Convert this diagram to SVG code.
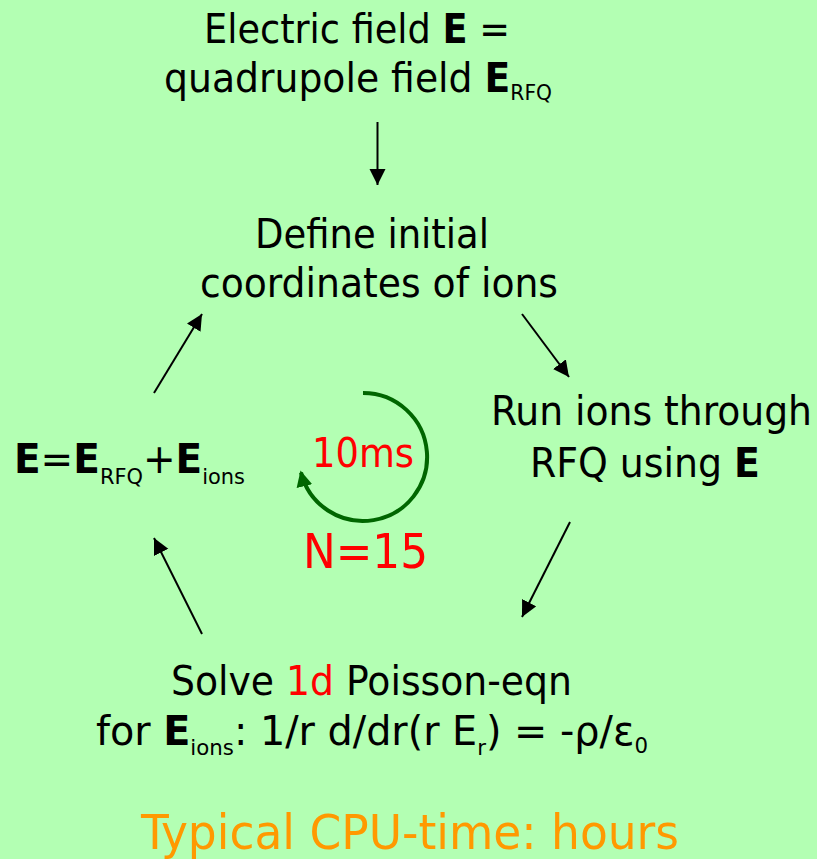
<svg xmlns="http://www.w3.org/2000/svg" width="817" height="859" viewBox="0 0 817 859">
<defs>
<style>
.t{font-family:"DejaVu Sans Condensed","DejaVu Sans",sans-serif;font-size:41px;fill:#000}
.b{font-weight:bold}
.s{font-size:22px}
.red{fill:#ff0000}
.big{font-size:48px}
.or{fill:#ff9900}
.ar{stroke:#000;stroke-width:2;fill:none;marker-end:url(#ah)}
</style>
<marker id="ah" markerUnits="userSpaceOnUse" markerWidth="17" markerHeight="17" refX="16" refY="8" orient="auto">
<path d="M0,0 L16,8 L0,16 z" fill="#000"/>
</marker>
<marker id="gh" markerUnits="userSpaceOnUse" markerWidth="17" markerHeight="16" refX="14" refY="8" orient="auto">
<path d="M0,0 L16,8 L0,16 z" fill="#006600"/>
</marker>
</defs>
<rect width="817" height="859" fill="#b3ffb3"/>
<g id="connectors">
<line class="ar" x1="377.5" y1="122" x2="377.5" y2="185"/>
<line class="ar" x1="154" y1="393" x2="202" y2="314"/>
<line class="ar" x1="522" y1="314" x2="569" y2="377"/>
<line class="ar" x1="570" y1="522" x2="522" y2="617"/>
<line class="ar" x1="202" y1="634" x2="154" y2="538"/>
</g>
<g id="node-field">
<text class="t" x="204" y="43" textLength="306" lengthAdjust="spacingAndGlyphs">Electric field <tspan class="b">E</tspan> =</text>
<text class="t" x="164" y="92" textLength="388" lengthAdjust="spacingAndGlyphs">quadrupole field <tspan class="b">E</tspan><tspan class="s" dy="8">RFQ</tspan></text>
</g>
<g id="node-define">
<text class="t" x="255" y="248" textLength="234" lengthAdjust="spacingAndGlyphs">Define initial</text>
<text class="t" x="200" y="297" textLength="358" lengthAdjust="spacingAndGlyphs">coordinates of ions</text>
</g>
<g id="node-run">
<text class="t" x="491" y="425" textLength="321" lengthAdjust="spacingAndGlyphs">Run ions through</text>
<text class="t" x="530" y="477" textLength="230" lengthAdjust="spacingAndGlyphs">RFQ using <tspan class="b">E</tspan></text>
</g>
<g id="node-solve">
<text class="t" x="171" y="695" textLength="401" lengthAdjust="spacingAndGlyphs">Solve <tspan class="red">1d</tspan> Poisson-eqn</text>
<text class="t" x="96" y="745" textLength="552" lengthAdjust="spacingAndGlyphs">for <tspan class="b">E</tspan><tspan class="s" dy="10">ions</tspan><tspan dy="-10">: 1/r d/dr(r E</tspan><tspan class="s" dy="10">r</tspan><tspan dy="-10">) = -ρ/ε</tspan><tspan class="s" dy="8">0</tspan></text>
</g>
<g id="node-sum">
<text class="t" x="14" y="473" textLength="231" lengthAdjust="spacingAndGlyphs"><tspan class="b">E</tspan>=<tspan class="b">E</tspan><tspan class="s" dy="11">RFQ</tspan><tspan dy="-11">+</tspan><tspan class="b">E</tspan><tspan class="s" dy="11">ions</tspan></text>
</g>
<g id="loop">
<path d="M363,393 A64,64 0 1 1 301,472.5" fill="none" stroke="#006600" stroke-width="4" marker-end="url(#gh)"/>
<text class="t red" x="312" y="467" textLength="102" lengthAdjust="spacingAndGlyphs">10ms</text>
<text class="t red big" x="303" y="568" textLength="125" lengthAdjust="spacingAndGlyphs">N=15</text>
</g>
<g id="cpu-time">
<text class="t or big" x="141" y="849" textLength="538" lengthAdjust="spacingAndGlyphs">Typical CPU-time: hours</text>
</g>
</svg>
